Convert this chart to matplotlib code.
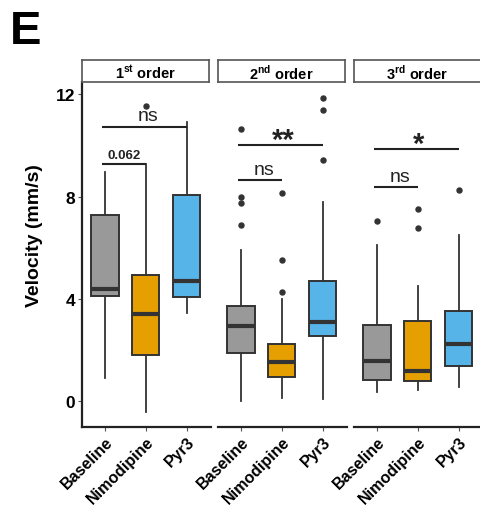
import matplotlib
matplotlib.use("Agg")
import matplotlib.pyplot as plt

plt.rcParams["font.family"] = ["Liberation Sans", "DejaVu Sans"]
plt.rcParams["mathtext.fontset"] = "custom"
plt.rcParams["mathtext.bf"] = "Liberation Sans:bold"
plt.rcParams["mathtext.rm"] = "Liberation Sans"

groups = ["Baseline", "Nimodipine", "Pyr3"]
panel_titles = [r"1$^{\mathbf{st}}$ order", r"2$^{\mathbf{nd}}$ order", r"3$^{\mathbf{rd}}$ order"]
colors = ["#999999", "#E69F00", "#56B4E9"]

# Box statistics per vessel order (Baseline, Nimodipine, Pyr3)
first_whislo = [0.9, -0.4, 3.45]
first_q1 = [4.1, 1.8, 4.06]
first_med = [4.41, 3.4, 4.69]
first_q3 = [7.27, 4.92, 8.05]
first_whishi = [8.98, 9.26, 10.9]
first_fliers = [[], [11.56], []]

second_whislo = [0.0, 0.12, 0.09]
second_q1 = [1.88, 0.94, 2.57]
second_med = [2.93, 1.55, 3.11]
second_q3 = [3.72, 2.24, 4.71]
second_whishi = [5.91, 4.02, 7.79]
second_fliers = [[10.66, 7.97, 7.76, 6.91], [8.13, 5.52, 4.28], [11.86, 11.4, 9.45]]

third_whislo = [0.38, 0.44, 0.57]
third_q1 = [0.83, 0.81, 1.38]
third_med = [1.57, 1.18, 2.24]
third_q3 = [3.0, 3.14, 3.53]
third_whishi = [6.13, 4.52, 6.5]
third_fliers = [[7.06], [7.5, 6.76], [8.25]]

# Significance brackets: (group a, group b, height, label)
first_sig = [(0, 1, 9.26, "0.062"), (0, 2, 10.74, "ns")]
second_sig = [(0, 2, 10.01, "**"), (0, 1, 8.64, "ns")]
third_sig = [(0, 2, 9.86, "*"), (0, 1, 8.36, "ns")]

yticks = [0, 4, 8, 12]

panels = [
    (first_whislo, first_q1, first_med, first_q3, first_whishi, first_fliers, first_sig),
    (second_whislo, second_q1, second_med, second_q3, second_whishi, second_fliers, second_sig),
    (third_whislo, third_q1, third_med, third_q3, third_whishi, third_fliers, third_sig),
]

W, H = 481, 510
fig = plt.figure(figsize=(W / 100, H / 100), dpi=100)

edge = "#333333"
ax_left = [82, 218, 354]
ax_w = 129
ax_top, ax_bot = 83, 428
strip_top = 61

for i, (wlo, q1, med, q3, whi, fl, sig) in enumerate(panels):
    ax = fig.add_axes([ax_left[i] / W, 1 - ax_bot / H, ax_w / W, (ax_bot - ax_top) / H])
    stats = []
    for j in range(3):
        stats.append(dict(whislo=wlo[j], q1=q1[j], med=med[j], q3=q3[j],
                          whishi=whi[j], fliers=fl[j]))
    bp = ax.bxp(stats, positions=[1, 2, 3], widths=0.67, patch_artist=True,
                showcaps=False,
                boxprops=dict(edgecolor=edge, linewidth=1.4),
                whiskerprops=dict(color=edge, linewidth=1.3),
                medianprops=dict(color=edge, linewidth=3.0, solid_capstyle="butt"),
                flierprops=dict(marker="o", markerfacecolor=edge, markeredgecolor=edge,
                                markersize=3.6, linestyle="none"))
    for patch, c in zip(bp["boxes"], colors):
        patch.set_facecolor(c)

    for a, b, h, lab in sig:
        x1, x2 = a + 1 - 0.06, b + 1
        ax.plot([x1, x2], [h, h], color="#222222", lw=1.5, solid_capstyle="butt")
        xm = (x1 + x2) / 2
        if lab == "ns":
            ax.text(xm + 0.1, h + 0.1, lab, ha="center", va="bottom", fontsize=14, color="#222222")
        elif lab.startswith("*"):
            ax.text(xm + 0.06, h - 0.35, lab, ha="center", va="bottom", fontsize=21,
                    fontweight="bold", color="#222222")
        else:
            ax.text(xm, h + 0.12, lab, ha="center", va="bottom", fontsize=9.5,
                    fontweight="bold", color="#222222")

    ax.set_xlim(0.44, 3.6)
    ax.set_ylim(-1.0, 12.48)
    ax.set_xticks([1, 2, 3])
    ax.set_xticklabels(groups, rotation=45, ha="right", rotation_mode="anchor",
                       fontsize=11.5, fontweight="bold")
    for s in ["top", "right"]:
        ax.spines[s].set_visible(False)
    ax.spines["bottom"].set_color("#222222")
    ax.spines["bottom"].set_linewidth(1.6)
    ax.tick_params(axis="x", length=3, width=0.8, color="#555555", pad=2)
    if i == 0:
        ax.spines["left"].set_color("#222222")
        ax.spines["left"].set_linewidth(1.6)
        ax.set_yticks(yticks)
        ax.set_yticklabels([str(t) for t in yticks], fontsize=12.5, fontweight="bold")
        ax.tick_params(axis="y", length=3, width=0.8, color="#555555", pad=2)
        ax.set_ylabel("Velocity (mm/s)", fontsize=14, fontweight="bold")
        ax.yaxis.set_label_coords(-39 / ax_w, 0.557)
    else:
        ax.spines["left"].set_visible(False)
        ax.set_yticks([])

    sax = fig.add_axes([ax_left[i] / W, 1 - ax_top / H, (ax_w - 2) / W, (ax_top - strip_top) / H])
    sax.set_xticks([])
    sax.set_yticks([])
    for s in sax.spines.values():
        s.set_color("#555555")
        s.set_linewidth(1.2)
    sax.text(0.5, 0.45, panel_titles[i], ha="center", va="center", fontsize=10.5,
             fontweight="bold", transform=sax.transAxes)

fig.text(10 / W, 1 - 44 / H, "E", fontsize=34, fontweight="bold", ha="left", va="baseline")

fig.savefig("out.png", dpi=100)
